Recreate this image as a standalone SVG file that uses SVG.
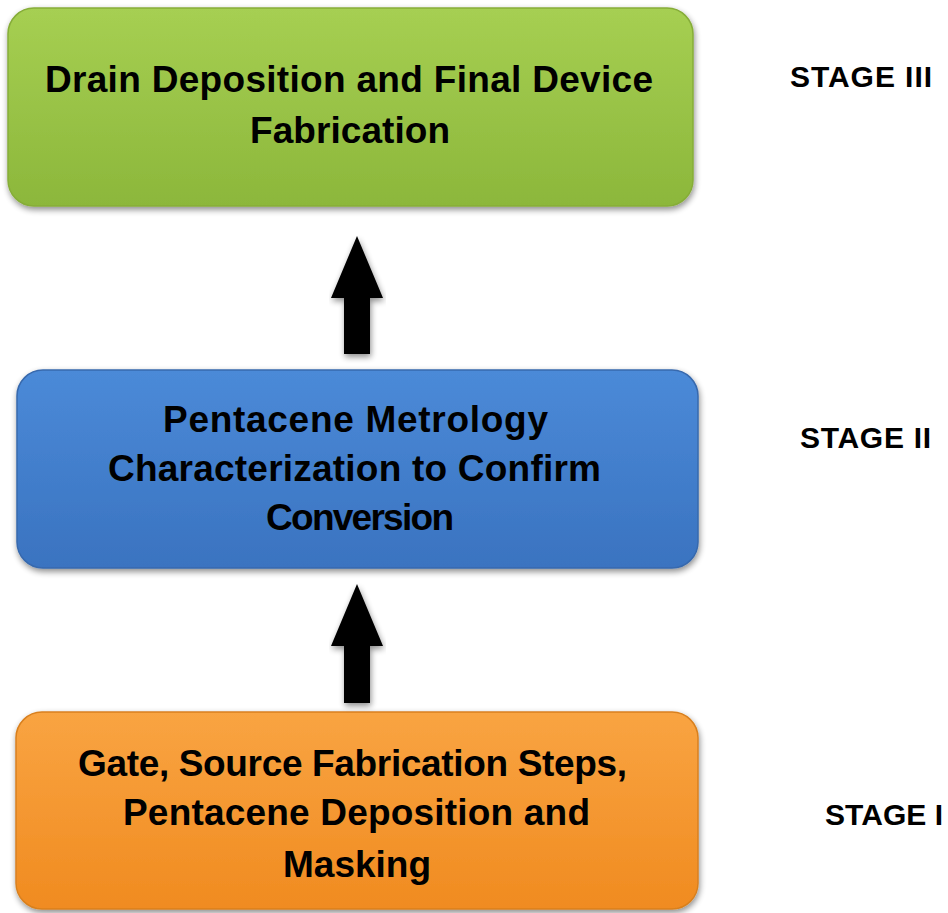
<svg xmlns="http://www.w3.org/2000/svg" width="948" height="913" viewBox="0 0 948 913">
<style>
.lbl{font-family:"Liberation Sans",Arial,sans-serif;font-weight:bold;font-size:37px;fill:#000;text-anchor:middle}
.stg{font-family:"Liberation Sans",Arial,sans-serif;font-weight:bold;font-size:30px;fill:#000}
.arrow{fill:#000}
</style>
<defs>
<linearGradient id="gGreen" x1="0" y1="0" x2="0" y2="1">
<stop offset="0" stop-color="#a6cf52"/><stop offset="1" stop-color="#8cb73b"/>
</linearGradient>
<linearGradient id="gBlue" x1="0" y1="0" x2="0" y2="1">
<stop offset="0" stop-color="#4b8ad8"/><stop offset="1" stop-color="#3a73c0"/>
</linearGradient>
<linearGradient id="gOrange" x1="0" y1="0" x2="0" y2="1">
<stop offset="0" stop-color="#f9a442"/><stop offset="1" stop-color="#f08b20"/>
</linearGradient>
<filter id="sh" x="-5%" y="-10%" width="110%" height="125%">
<feGaussianBlur in="SourceAlpha" stdDeviation="3"/>
<feOffset dx="1" dy="3" result="b"/>
<feComponentTransfer><feFuncA type="linear" slope="0.45"/></feComponentTransfer>
<feMerge><feMergeNode/><feMergeNode in="SourceGraphic"/></feMerge>
</filter>
</defs>
<rect width="948" height="913" fill="#fff"/>
<g id="stage3">
<rect x="8" y="8" width="685" height="198" rx="26" fill="url(#gGreen)" stroke="#86ad38" stroke-width="1.5" filter="url(#sh)"/>
<text class="lbl" x="349" y="92" textLength="608">Drain Deposition and Final Device</text>
<text class="lbl" x="350" y="143" textLength="200">Fabrication</text>
</g>
<g id="stage2">
<rect x="17" y="370" width="681" height="198" rx="26" fill="url(#gBlue)" stroke="#3769ad" stroke-width="1.5" filter="url(#sh)"/>
<text class="lbl" x="355.5" y="432" textLength="385">Pentacene Metrology</text>
<text class="lbl" x="354.5" y="481" textLength="493">Characterization to Confirm</text>
<text class="lbl" x="360" y="530" textLength="188">Conversion</text>
</g>
<g id="stage1">
<rect x="16" y="712" width="682" height="197" rx="26" fill="url(#gOrange)" stroke="#d9801f" stroke-width="1.5" filter="url(#sh)"/>
<text class="lbl" x="352.5" y="776" textLength="549">Gate, Source Fabrication Steps,</text>
<text class="lbl" x="356.5" y="825" textLength="467">Pentacene Deposition and</text>
<text class="lbl" x="357" y="877" textLength="148">Masking</text>
</g>
<g id="labels">
<text class="stg" x="790" y="87" textLength="142">STAGE III</text>
<text class="stg" x="800" y="448" textLength="131">STAGE II</text>
<text class="stg" x="825" y="825" textLength="118">STAGE I</text>
</g>
<g id="connectors">
<polygon class="arrow" points="357,236 383,298 370,298 370,354 344,354 344,298 331,298" filter="url(#sh)"/>
<polygon class="arrow" points="357,584 383,646 370,646 370,703 344,703 344,646 331,646" filter="url(#sh)"/>
</g>
</svg>
